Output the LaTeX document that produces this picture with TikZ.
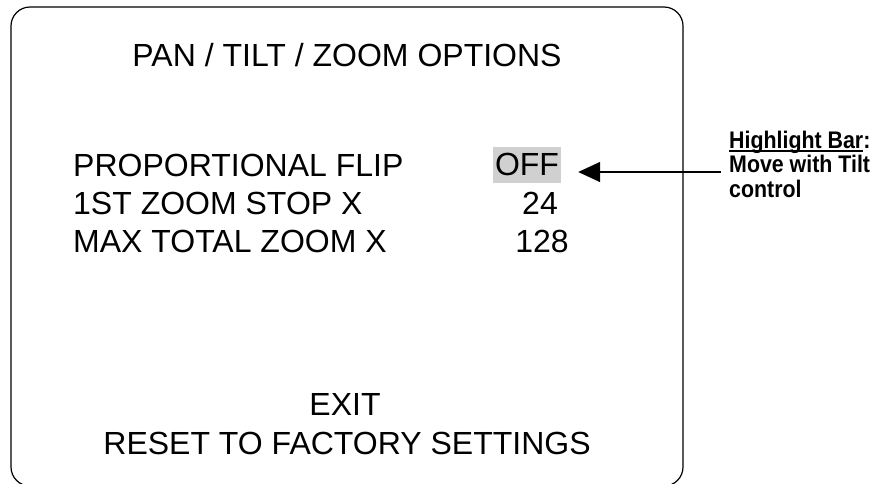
\documentclass[tikz,border=0pt]{standalone}
\usepackage{fontspec}
\setmainfont{Liberation Sans}
\newfontfamily\notefont[FakeStretch=0.89]{Liberation Sans}
\usepackage{xcolor}
\usetikzlibrary{arrows.meta,positioning}
\definecolor{hlgray}{RGB}{208,208,208}
\newlength\ulwd
\newcommand{\ulbar}[1]{\settowidth{\ulwd}{#1}\rlap{\rule[-3.5pt]{\ulwd}{1.6pt}}#1}
\begin{document}
\begin{tikzpicture}[
    x=1pt, y=-1pt,
    screen/.style={rectangle, draw, line width=1.2pt, rounded corners=19pt, minimum width=672pt, minimum height=479pt, inner sep=0pt},
    menu/.style={anchor=base, inner sep=0pt, font=\fontsize{32}{38}\selectfont},
    item/.style={menu, anchor=base west},
    highlight/.style={menu, fill=hlgray, inner xsep=2pt, text height=28pt, text depth=8pt},
    note/.style={anchor=base west, align=left, inner sep=0pt, font=\notefont\bfseries\fontsize{24}{24.5}\selectfont},
    pointer/.style={-{Triangle[length=22pt,width=20pt]}, line width=1.5pt}
]
\useasboundingbox (0,0) rectangle (874,483);
\node[screen] (screen) at (347,246.5) {};

\node[menu] (title) at (347,66) {PAN / TILT / ZOOM OPTIONS};
\node[item] (flip) at (73,176) {PROPORTIONAL FLIP};
\node[item] (stop) at (73,214) {1ST ZOOM STOP X};
\node[item] (total) at (73,252) {MAX TOTAL ZOOM X};
\node[highlight] (off) at (527,175) {OFF};
\node[menu] (stopval) at (540,214) {24};
\node[menu] (totalval) at (542,252) {128};
\node[menu] (exit) at (345,415) {EXIT};
\node[menu] (reset) at (347,454) {RESET TO FACTORY SETTINGS};

% base of a multi-line node is its last line
\node[note] (hint) at (729,197) {\ulbar{Highlight Bar}:\\Move with Tilt\\control};
\coordinate (tail) at (721,172);
\draw[pointer] (tail) -- ([xshift=17pt]off.east |- tail);
\end{tikzpicture}
\end{document}
